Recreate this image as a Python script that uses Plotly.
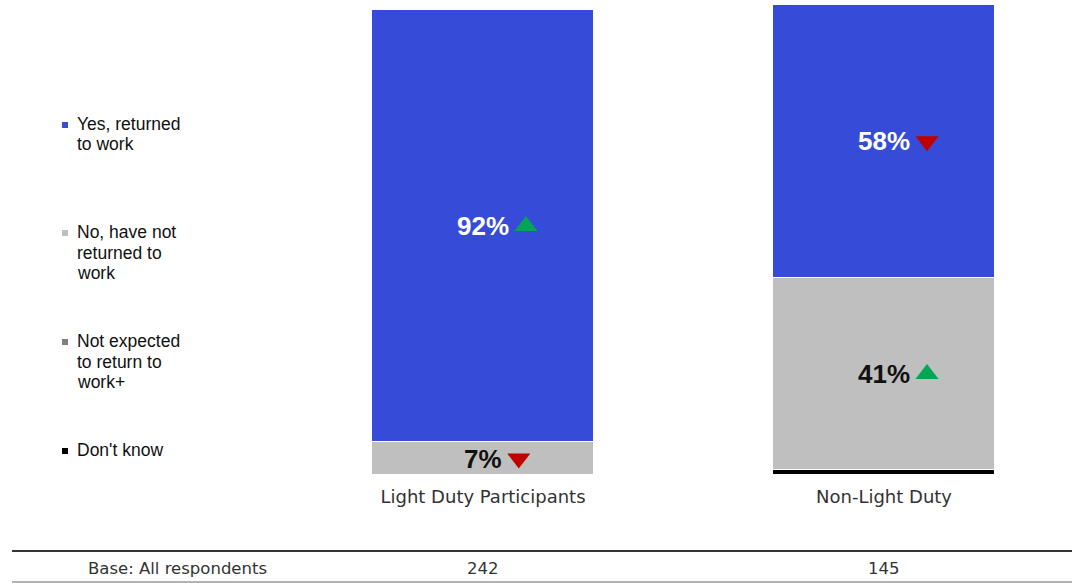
import plotly.graph_objects as go

# ---- data ----
categories = ["Light Duty Participants", "Non-Light Duty"]
series_names = ["Yes, returned to work", "No, have not returned to work",
                "Not expected to return to work+", "Don't know"]
legend_lines = [["Yes, returned", "to work"],
                ["No, have not", "returned to", "work"],
                ["Not expected", "to return to", "work+"],
                ["Don't know"]]
yes_returned = [92, 58]
not_returned = [7, 41]
not_expected = [0, 0]
dont_know = [0, 1]
# significance direction per labelled segment: +1 up, -1 down
yes_change = [1, -1]
not_returned_change = [-1, 1]
base_label = "Base: All respondents"
base_sizes = ["242", "145"]

series_values = [yes_returned, not_returned, not_expected, dont_know]
series_changes = [yes_change, not_returned_change, None, None]
colors = ["#364CD8", "#BFBFBF", "#808080", "#000000"]
label_colors = ["#FFFFFF", "#111111", "#111111", "#FFFFFF"]

W, H = 1072, 583
ML, MR, MT, MB = 230, 0, 5, 108
PX_PER_UNIT = 401.0
x_lo = -(483 - ML) / PX_PER_UNIT
x_hi = x_lo + (W - ML - MR) / PX_PER_UNIT
plot_h = H - MT - MB
plot_w = W - ML - MR


def py(p):  # pixel row -> paper y
    return (H - MB - p) / plot_h


def px(p):  # pixel column -> paper x
    return (p - ML) / plot_w


xs = list(range(len(categories)))
fig = go.Figure()

# stack from the bottom: last series sits at the base, first on top
stack_order = list(range(len(series_names)))[::-1]
for s in stack_order:
    fig.add_trace(go.Bar(
        x=xs, y=series_values[s], name=series_names[s], width=222 / PX_PER_UNIT,
        marker=dict(color=colors[s], line=dict(color="#FFFFFF", width=1)),
        showlegend=False, hoverinfo="skip",
    ))

annotations = []
tri_x, tri_y, tri_sym, tri_col = [], [], [], []
label_size = 26
for i in xs:
    base = 0
    for s in stack_order:
        v = series_values[s][i]
        mid = base + v / 2
        base += v
        if v < 5:
            continue
        txt = f"{v}%"
        annotations.append(dict(
            x=i, y=mid, xref="x", yref="y", text=f"<b>{txt}</b>",
            showarrow=False, xanchor="center", yanchor="middle",
            font=dict(family="Liberation Sans, Arial", size=label_size,
                      color=label_colors[s])))
        ch = series_changes[s]
        if ch is not None:
            text_w = (0.556 * (len(txt) - 1) + 0.889) * label_size
            tri_x.append(i + (text_w / 2 + 17) / PX_PER_UNIT)
            tri_y.append(mid)
            tri_sym.append("triangle-up" if ch[i] > 0 else "triangle-down")
            tri_col.append("#00A651" if ch[i] > 0 else "#C00000")

fig.add_trace(go.Scatter(
    x=tri_x, y=tri_y, mode="markers", showlegend=False, hoverinfo="skip",
    marker=dict(symbol=tri_sym, color=tri_col, size=20, line=dict(width=0)),
))

# legend drawn at the left
shapes = []
legend_first_rows = [124, 232, 341, 450]
line_gap = 20.5
for lines, col, row in zip(legend_lines, colors, legend_first_rows):
    shapes.append(dict(type="rect", xref="paper", yref="paper",
                       x0=px(62), x1=px(68), y0=py(row + 4), y1=py(row - 2),
                       fillcolor=col, line=dict(width=0)))
    for k, ln in enumerate(lines):
        annotations.append(dict(
            x=px(75), y=py(row + k * line_gap), xref="paper", yref="paper",
            text=ln, showarrow=False, xanchor="left", yanchor="middle",
            font=dict(family="Liberation Sans, Arial", size=17.5, color="#111111")))

# base table underneath
shapes.append(dict(type="line", xref="paper", yref="paper",
                   x0=px(12), x1=px(W), y0=py(551), y1=py(551),
                   line=dict(color="#333333", width=2)))
shapes.append(dict(type="line", xref="paper", yref="paper",
                   x0=px(12), x1=px(W), y0=py(582), y1=py(582),
                   line=dict(color="#999999", width=1.5)))
annotations.append(dict(
    x=px(177), y=py(568), xref="paper", yref="paper", text=base_label,
    showarrow=False, xanchor="center", yanchor="middle",
    font=dict(family="DejaVu Sans", size=16.5, color="#333333")))
for i, n in zip(xs, base_sizes):
    annotations.append(dict(
        x=i, y=py(568), xref="x", yref="paper", text=n, showarrow=False,
        xanchor="center", yanchor="middle",
        font=dict(family="DejaVu Sans", size=16.5, color="#333333")))

fig.update_layout(
    width=W, height=H, barmode="stack", bargap=0,
    margin=dict(l=ML, r=MR, t=MT, b=MB),
    paper_bgcolor="#FFFFFF", plot_bgcolor="#FFFFFF",
    xaxis=dict(range=[x_lo, x_hi], tickvals=xs, ticktext=categories,
               showgrid=False, zeroline=False, showline=False, ticks="",
               ticklabelstandoff=9,
               tickfont=dict(family="DejaVu Sans", size=18, color="#333333")),
    yaxis=dict(range=[0, 100], visible=False, showgrid=False, zeroline=False),
    shapes=shapes, annotations=annotations,
)

fig.write_html("out.html")
